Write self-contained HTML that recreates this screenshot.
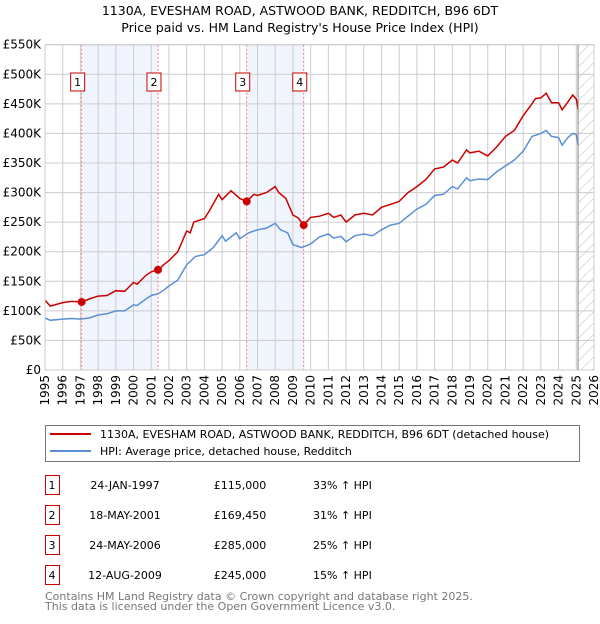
<!DOCTYPE html>
<html><head><meta charset="utf-8">
<style>
body{margin:0;background:#fff;font-family:"DejaVu Sans","Liberation Sans",sans-serif;}
svg text{font-family:"DejaVu Sans","Liberation Sans",sans-serif;}
</style></head>
<body>
<svg id="chart" width="600" height="620" xmlns="http://www.w3.org/2000/svg">
<defs>
<pattern id="hatch" width="8" height="8" patternUnits="userSpaceOnUse" patternTransform="rotate(45)">
<line x1="0" y1="0" x2="0" y2="8" stroke="#bbb" stroke-width="1"/></pattern>
</defs>
<text x="300" y="15" text-anchor="middle" font-size="12.5">1130A, EVESHAM ROAD, ASTWOOD BANK, REDDITCH, B96 6DT</text>
<text x="300" y="32" text-anchor="middle" font-size="12.5">Price paid vs. HM Land Registry's House Price Index (HPI)</text>
<g id="bands"></g>
<g id="grid"></g>
<g id="series"></g>
<g id="markers"></g>
<g id="axes"></g>
<g>
<rect x="45.5" y="425.5" width="534" height="36" fill="#fff" stroke="#777"/>
<line x1="50" y1="434" x2="91" y2="434" stroke="#cc0000" stroke-width="2"/>
<text x="100" y="438" font-size="11">1130A, EVESHAM ROAD, ASTWOOD BANK, REDDITCH, B96 6DT (detached house)</text>
<line x1="50" y1="451" x2="91" y2="451" stroke="#5b8fd4" stroke-width="2"/>
<text x="100" y="455" font-size="11">HPI: Average price, detached house, Redditch</text>
</g>
<g id="table" font-size="11"></g>
<text x="45" y="600" font-size="11" fill="#777">Contains HM Land Registry data © Crown copyright and database right 2025.</text>
<text x="45" y="610" font-size="11" fill="#777">This data is licensed under the Open Government Licence v3.0.</text>
</svg>
<script>
const redYears=[1995.0,1995.3,1996,1996.5,1997.07,1997.5,1998,1998.5,1999,1999.5,2000,2000.2,2000.7,2001,2001.38,2001.7,2002,2002.5,2003,2003.2,2003.4,2004,2004.3,2004.8,2005,2005.5,2006,2006.39,2006.8,2007,2007.5,2008,2008.2,2008.6,2009,2009.3,2009.61,2010,2010.5,2011,2011.3,2011.7,2012,2012.5,2013,2013.5,2014,2014.5,2015,2015.5,2016,2016.5,2017,2017.5,2018,2018.3,2018.8,2019,2019.5,2020,2020.5,2021,2021.5,2022,2022.5,2022.7,2023,2023.3,2023.6,2024,2024.2,2024.5,2024.8,2025,2025.1];
const redVals=[118,108,114,116,115,120,125,126,134,133,148,145,160,166,169,178,185,200,235,232,250,256,270,297,288,303,290,285,297,295,300,310,300,290,262,257,245,258,260,265,258,262,250,262,265,262,275,280,285,300,310,322,340,343,355,350,372,367,370,362,377,395,405,430,450,459,460,468,452,452,440,452,465,458,440];
const hpiYears=[1995.0,1995.3,1996,1996.5,1997,1997.5,1998,1998.5,1999,1999.5,2000,2000.2,2000.7,2001,2001.4,2001.7,2002,2002.5,2003,2003.5,2004,2004.5,2005,2005.2,2005.8,2006,2006.5,2007,2007.5,2008,2008.3,2008.7,2009,2009.5,2010,2010.5,2011,2011.3,2011.7,2012,2012.5,2013,2013.5,2014,2014.5,2015,2015.5,2016,2016.5,2017,2017.5,2018,2018.3,2018.8,2019,2019.5,2020,2020.5,2021,2021.5,2022,2022.5,2023,2023.3,2023.6,2024,2024.2,2024.5,2024.8,2025,2025.1];
const hpiVals=[88,84,86,87,86,88,93,95,100,100,110,109,120,126,129,135,142,152,178,192,195,207,227,218,232,222,232,237,240,248,237,232,212,207,213,225,230,223,226,217,227,230,227,237,245,248,260,272,280,295,297,310,306,325,320,323,322,335,345,355,370,395,400,405,395,393,380,392,400,398,380];
const saleYears=[1997.07,2001.38,2006.39,2009.61];
const saleVals=[115,169.45,285,245];
const saleLabels=["1","2","3","4"];
const saleDates=["24-JAN-1997","18-MAY-2001","24-MAY-2006","12-AUG-2009"];
const salePrices=["£115,000","£169,450","£285,000","£245,000"];
const saleHpi=["33% ↑ HPI","31% ↑ HPI","25% ↑ HPI","15% ↑ HPI"];
const yTicks=[0,50,100,150,200,250,300,350,400,450,500,550];
const yTickLabels=["£0","£50K","£100K","£150K","£200K","£250K","£300K","£350K","£400K","£450K","£500K","£550K"];
const xTicks=[1995,1996,1997,1998,1999,2000,2001,2002,2003,2004,2005,2006,2007,2008,2009,2010,2011,2012,2013,2014,2015,2016,2017,2018,2019,2020,2021,2022,2023,2024,2025,2026];

const NS="http://www.w3.org/2000/svg";
const L=45,R=594,T=44.7,B=370;
const x=v=>L+(v-1995)/(2026-1995)*(R-L);
const y=v=>B-v/550*(B-T);
function mk(tag,attrs,parent){const e=document.createElementNS(NS,tag);for(const k in attrs)e.setAttribute(k,attrs[k]);document.getElementById(parent).appendChild(e);return e;}

for(const [a,b] of [[0,1],[2,3]]){
 const r=mk('rect',{x:x(saleYears[a]),y:T,width:x(saleYears[b])-x(saleYears[a]),height:B-T,fill:'#f0f4fd'},'bands');
 
 
}
const h=mk('rect',{x:x(2025.1),y:T,width:R-x(2025.1),height:B-T,fill:'url(#hatch)'},'bands');


yTicks.forEach((t,i)=>{
 const g=mk('line',{x1:L,x2:R,y1:y(t),y2:y(t),stroke:'#ccc'},'grid');
 
 
 const tx=mk('text',{x:L-4,y:y(t)+4,'text-anchor':'end','font-size':'12'},'axes');
 tx.textContent=yTickLabels[i];
 
 
});
xTicks.forEach(t=>{
 const g=mk('line',{x1:x(t),x2:x(t),y1:T,y2:B,stroke:'#ccc'},'grid');
 
 
 const tx=mk('text',{x:0,y:0,'text-anchor':'end','font-size':'12',transform:`translate(${x(t)+4},${B+5}) rotate(-90)`},'axes');
 tx.textContent=t;
 
 
});
const fr=mk('rect',{x:L,y:T,width:R-L,height:B-T,fill:'none',stroke:'#ccc'},'axes');


const nl=mk('line',{x1:x(2025.1),x2:x(2025.1),y1:T,y2:B,stroke:'#888'},'axes');


saleYears.forEach((s,i)=>{
 const l=mk('line',{x1:x(s),x2:x(s),y1:T,y2:B,stroke:'#f06060','stroke-width':'0.8','stroke-dasharray':'2,2'},'markers');
 
 
 const bx=mk('rect',{x:x(s)-11,y:73,width:14,height:18,fill:'#fff',stroke:'#cc0000'},'markers');
 
 
 const t=mk('text',{x:x(s)-4,y:86,'text-anchor':'middle','font-size':'11'},'markers');
 t.textContent=saleLabels[i];
 
 
});
function path(xs,vs){return xs.map((a,i)=>(i?'L':'M')+x(a).toFixed(1)+','+y(vs[i]).toFixed(1)).join('');}
const hp=mk('path',{d:path(hpiYears,hpiVals),fill:'none',stroke:'#5b8fd4','stroke-width':'1.5'},'series');


const rp=mk('path',{d:path(redYears,redVals),fill:'none',stroke:'#cc0000','stroke-width':'1.5'},'series');


saleYears.forEach((s,i)=>{
 const c=mk('circle',{cx:x(s),cy:y(saleVals[i]),r:4,fill:'#cc0000'},'markers');
 
 
});
saleYears.forEach((s,i)=>{
 const yy=475+i*30;
 const b=mk('rect',{x:45.5,y:yy+0.5,width:14,height:19,fill:'#fff',stroke:'#cc0000'},'table');
 
 
 const cells=[[52,saleLabels[i],'middle'],[125,saleDates[i],'middle'],[240,salePrices[i],'middle'],[313,saleHpi[i],'start']];
 cells.forEach(c=>{
  const t=mk('text',{x:c[0],y:yy+14,'text-anchor':c[2],'font-size':'11'},'table');
  t.textContent=c[1];
  
  
 });
});
</script>
</body></html>
